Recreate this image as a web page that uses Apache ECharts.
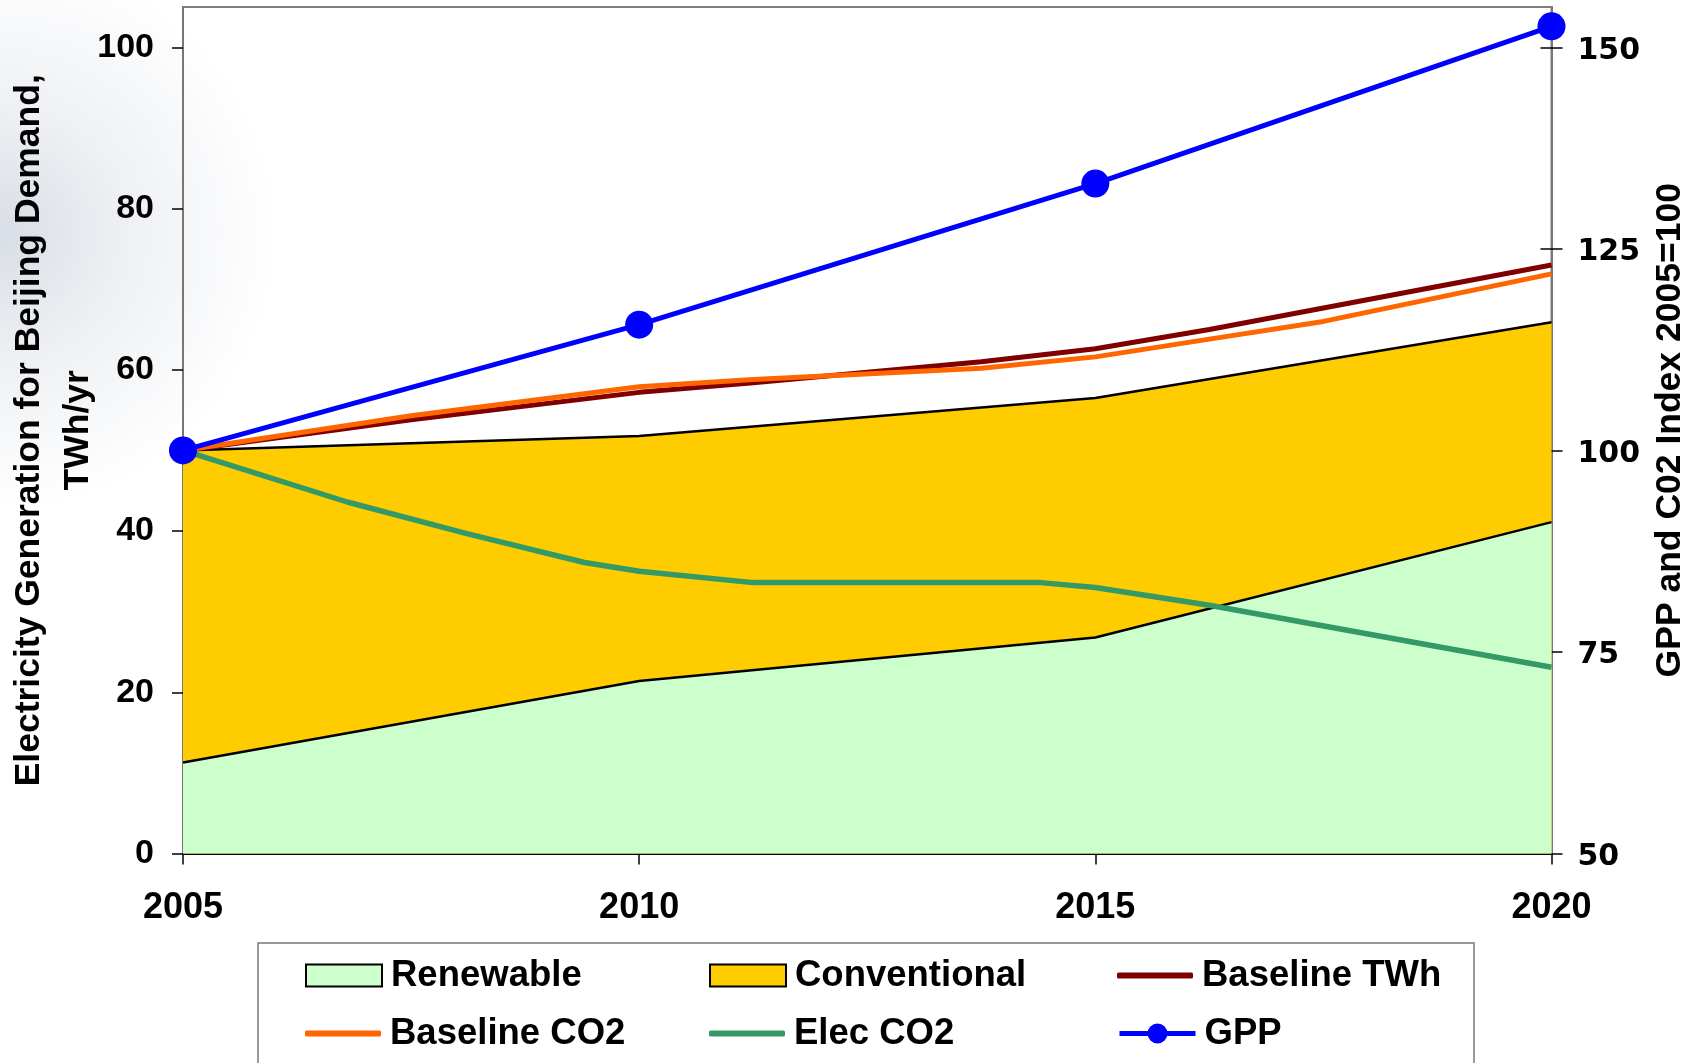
<!DOCTYPE html>
<html>
<head>
<meta charset="utf-8">
<script src="https://cdn.jsdelivr.net/npm/echarts@6/dist/echarts.min.js"></script>
<style>
  html, body { margin: 0; padding: 0; background: #fff; }
  #chart { width: 1700px; height: 1063px; }
</style>
</head>
<body>
<div id="chart"></div>
<script>
const FONT = '"Liberation Sans", Arial, Helvetica, sans-serif';

// Generation mix for Beijing demand, TWh/yr
const mixYears = [2005, 2010, 2015, 2020];
const renewable = [11.3, 21.4, 26.8, 41.1];
const conventional = [38.7, 30.4, 29.7, 24.8];

// Baseline demand, TWh/yr (left axis)
const baselineTWhYears = [2005, 2007.5, 2010, 2011.25, 2013.75, 2015, 2016.25, 2020];
const baselineTWh = [50, 53.8, 57.2, 58.4, 61.0, 62.6, 65.0, 73.0];

// Index series, 2005 = 100 (right axis)
const baselineCO2Years = [2005, 2007.5, 2010, 2011.25, 2013.75, 2015, 2016.25, 2017.5, 2020];
const baselineCO2 = [100, 104.3, 107.9, 108.8, 110.2, 111.6, 113.8, 116.0, 121.9];
const elecCO2Years = [2005, 2006.8, 2008.1, 2009.4, 2010, 2011.25, 2014.4, 2015, 2016.25, 2020];
const elecCO2 = [100, 93.6, 89.7, 86.1, 85.0, 83.6, 83.6, 83.0, 80.8, 73.1];
const gppYears = [2005, 2010, 2015, 2020];
const gpp = [100, 115.6, 133.1, 152.6];

// Axis tick labels
const xTicks = [2005, 2010, 2015, 2020];
const leftTicks = [0, 20, 40, 60, 80, 100];
const rightTicks = [50, 75, 100, 125, 150];

const pairs = (xs, ys) => xs.map((x, i) => [x, ys[i]]);

// Conventional sits on top of renewable: its upper edge is the total generation
const totalGeneration = renewable.map((r, i) => r + conventional[i]);

const legendText = { fontFamily: FONT, fontSize: 36.5, fontWeight: 'bold', color: '#000', padding: [0, 0, 0, 4] };

function legendItem(name, left, top, extra) {
  return Object.assign({
    data: [name],
    left: left,
    top: top,
    padding: 0,
    itemWidth: 76,
    selectedMode: false,
    textStyle: legendText
  }, extra);
}

const row1 = 957, row2 = 1015;
const col1 = 305, col2 = 709, col3 = 1117;

const chart = echarts.init(document.getElementById('chart'), null, { renderer: 'canvas' });

chart.setOption({
  animation: false,
  backgroundColor: {
    type: 'radial', x: 0, y: 0.22, r: 0.26,
    colorStops: [
      { offset: 0, color: '#d9dde5' },
      { offset: 0.45, color: '#eef0f3' },
      { offset: 1, color: '#ffffff' }
    ]
  },
  grid: {
    left: 183, right: 148.5, top: 7, bottom: 209.5,
    show: true, borderColor: '#808080', borderWidth: 2,
    backgroundColor: 'transparent',
    outerBoundsMode: 'none'
  },
  graphic: [{
    type: 'rect',
    z: -1,
    shape: { x: 258, y: 943, width: 1216, height: 140 },
    style: { fill: 'rgba(255,255,255,0.6)', stroke: '#7a7a7a', lineWidth: 1.5 }
  }],
  legend: [
    legendItem('Renewable', col1, row1, { icon: 'rect', itemHeight: 22, itemStyle: { borderColor: '#000', borderWidth: 2 } }),
    legendItem('Conventional', col2, row1, { icon: 'rect', itemHeight: 22, itemStyle: { borderColor: '#000', borderWidth: 2 } }),
    legendItem('Baseline TWh', col3, row1, { icon: 'roundRect', itemHeight: 6, itemStyle: { borderWidth: 0 } }),
    legendItem('Baseline CO2', col1, row2, { icon: 'roundRect', itemHeight: 6, itemStyle: { borderWidth: 0 } }),
    legendItem('Elec CO2', col2, row2, { icon: 'roundRect', itemHeight: 6, itemStyle: { borderWidth: 0 } }),
    legendItem('GPP', col3, row2, { itemHeight: 25, lineStyle: { width: 5 } })
  ],
  xAxis: {
    type: 'value',
    min: 2005, max: 2020, interval: 5,
    axisLine: { show: true, lineStyle: { color: '#000', width: 2 } },
    axisTick: { show: true, length: 11, lineStyle: { color: '#000', width: 1.5 }, customValues: xTicks },
    axisLabel: {
      customValues: xTicks,
      formatter: v => String(v),
      margin: 37,
      fontFamily: FONT, fontSize: 36, fontWeight: 'bold', color: '#000'
    },
    splitLine: { show: false }
  },
  yAxis: [
    {
      type: 'value',
      position: 'left',
      min: 0, max: 105,
      name: 'Electricity Generation for Beijing Demand,\nTWh/yr',
      nameLocation: 'middle',
      nameRotate: 90,
      nameGap: 80,
      nameMoveOverlap: false,
      nameTextStyle: { fontFamily: FONT, fontSize: 35.5, fontWeight: 'bold', color: '#000', lineHeight: 49 },
      axisLine: { show: true, lineStyle: { color: '#777', width: 2 } },
      axisTick: { show: true, length: 11, lineStyle: { color: '#000', width: 1.5 }, customValues: leftTicks },
      axisLabel: {
        customValues: leftTicks,
        margin: 29,
        fontFamily: FONT, fontSize: 34, fontWeight: 'bold', color: '#000'
      },
      splitLine: { show: false }
    },
    {
      type: 'value',
      position: 'right',
      min: 50, max: 155,
      name: 'GPP and C02 Index 2005=100',
      nameLocation: 'middle',
      nameRotate: 90,
      nameGap: 101,
      nameTextStyle: { fontFamily: FONT, fontSize: 35.5, fontWeight: 'bold', color: '#000' },
      axisLine: { show: true, lineStyle: { color: '#777', width: 2 } },
      axisTick: { show: true, length: 11, lineStyle: { color: '#000', width: 1.5 }, customValues: rightTicks },
      axisLabel: {
        customValues: rightTicks,
        margin: 26,
        lineHeight: 36,
        verticalAlign: 'top',
        padding: [-14.5, 0, 0, 0],
        fontFamily: '"DejaVu Sans", Verdana, sans-serif', fontSize: 30, fontWeight: 'bold', color: '#000'
      },
      splitLine: { show: false }
    },
    {
      // inner half of the right-hand cross ticks
      type: 'value',
      position: 'right',
      min: 50, max: 155,
      axisLine: { show: false },
      axisTick: { show: true, inside: true, length: 11, lineStyle: { color: '#000', width: 1.5 }, customValues: rightTicks },
      axisLabel: { show: false },
      splitLine: { show: false }
    }
  ],
  series: [
    {
      name: 'Conventional',
      type: 'line',
      yAxisIndex: 0,
      data: pairs(mixYears, totalGeneration),
      symbol: 'none',
      itemStyle: { color: '#FFCC00' },
      lineStyle: { color: '#000', width: 2.5 },
      areaStyle: { color: '#FFCC00', opacity: 1, origin: 'start' },
      z: 1
    },
    {
      name: 'Renewable',
      type: 'line',
      yAxisIndex: 0,
      data: pairs(mixYears, renewable),
      symbol: 'none',
      itemStyle: { color: '#CCFFCC' },
      lineStyle: { color: '#000', width: 2.5 },
      areaStyle: { color: '#CCFFCC', opacity: 1, origin: 'start' },
      z: 2
    },
    {
      name: 'Elec CO2',
      type: 'line',
      yAxisIndex: 1,
      data: pairs(elecCO2Years, elecCO2),
      symbol: 'none',
      itemStyle: { color: '#339966' },
      lineStyle: { color: '#339966', width: 5.5 },
      z: 3
    },
    {
      name: 'Baseline TWh',
      type: 'line',
      yAxisIndex: 0,
      data: pairs(baselineTWhYears, baselineTWh),
      symbol: 'none',
      itemStyle: { color: '#800000' },
      lineStyle: { color: '#800000', width: 5 },
      z: 3
    },
    {
      name: 'Baseline CO2',
      type: 'line',
      yAxisIndex: 1,
      data: pairs(baselineCO2Years, baselineCO2),
      symbol: 'none',
      itemStyle: { color: '#FF6600' },
      lineStyle: { color: '#FF6600', width: 5 },
      z: 4
    },
    {
      name: 'GPP',
      type: 'line',
      yAxisIndex: 1,
      data: pairs(gppYears, gpp),
      symbol: 'circle',
      symbolSize: 28,
      showAllSymbol: true,
      itemStyle: { color: '#0000FF', borderWidth: 0 },
      lineStyle: { color: '#0000FF', width: 5 },
      z: 5
    }
  ]
});
</script>
</body>
</html>
